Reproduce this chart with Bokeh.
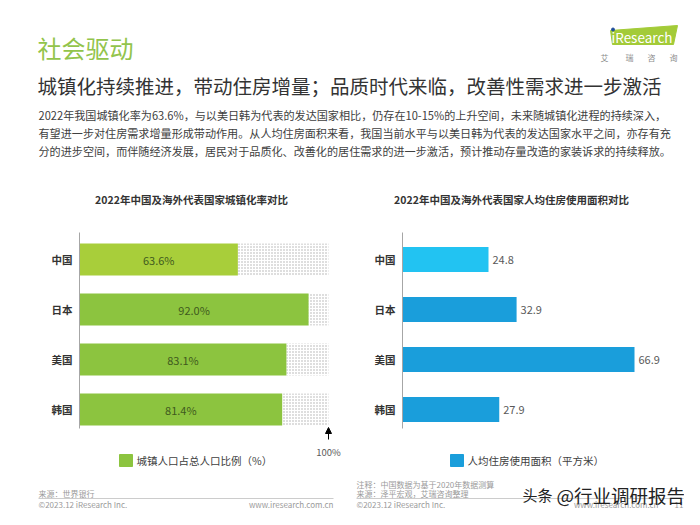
from bokeh.plotting import figure
from bokeh.models import Range1d, LinearAxis, FixedTicker, Arrow, NormalHead, ColumnDataSource
from bokeh.layouts import column, row
from bokeh.core.properties import value
from bokeh.embed import file_html
from bokeh.resources import INLINE

# ---------------- data ----------------
categories = ["中国", "日本", "美国", "韩国"]
urban_rate = [63.6, 92.0, 83.1, 81.4]          # 城镇人口占总人口比例（%）
urban_full = [100, 100, 100, 100]
living_area = [24.8, 32.9, 66.9, 27.9]         # 人均住房使用面积（平方米）
urban_colors = ["#A8CE3A", "#8CC43F", "#8CC43F", "#8CC43F"]
area_colors = ["#22C3F2", "#1A9EDB", "#1A9EDB", "#1A9EDB"]

title_main = "社会驱动"
subtitle = "城镇化持续推进，带动住房增量；品质时代来临，改善性需求进一步激活"
paragraph = [
    "2022年我国城镇化率为63.6%，与以美日韩为代表的发达国家相比，仍存在10-15%的上升空间，未来随城镇化进程的持续深入，",
    "有望进一步对住房需求增量形成带动作用。从人均住房面积来看，我国当前水平与以美日韩为代表的发达国家水平之间，亦存有充",
    "分的进步空间，而伴随经济发展，居民对于品质化、改善化的居住需求的进一步激活，预计推动存量改造的家装诉求的持续释放。",
]
left_title = "2022年中国及海外代表国家城镇化率对比"
right_title = "2022年中国及海外代表国家人均住房使用面积对比"
left_legend = "城镇人口占总人口比例（%）"
right_legend = "人均住房使用面积（平方米）"

CJK = value("Noto Sans CJK SC")

TOTAL_W = 684
HEAD_H = 215
CHART_TOP, CHART_BOT = 215, 467
FOOT_TOP, FOOT_BOT = 467, 509


def base_fig(width, height, xr, yr):
    p = figure(width=width, height=height, x_range=xr, y_range=yr,
               toolbar_location=None, output_backend="svg",
               x_axis_location=None, y_axis_location=None,
               min_border=0)
    p.outline_line_color = None
    p.background_fill_color = "white"
    p.border_fill_color = "white"
    p.xgrid.grid_line_color = None
    p.ygrid.grid_line_color = None
    return p


def txt(p, x, y, s, size, color, align="left", style="normal", rx="default", ry="default"):
    p.text(x=[x], y=[y], text=[s], text_font=CJK, text_font_size=f"{size}px",
           text_color=color, text_align=align, text_baseline="middle",
           text_font_style=style, x_range_name=rx, y_range_name=ry)


# ---------------- header (incl. chart titles) ----------------
head = base_fig(TOTAL_W, HEAD_H, Range1d(0, TOTAL_W), Range1d(HEAD_H, 0))
txt(head, 37, 47, title_main, 24, "#92C44B")
txt(head, 37, 85, subtitle, 19.5, "#333333")
for i, line in enumerate(paragraph):
    txt(head, 38, 114 + 18 * i, line, 11.1, "#404040")
# logo
head.patch(x=[610, 677, 673, 612], y=[30, 25, 44, 44], color="#A3CB38")
txt(head, 611, 36, "iResearch", 13.5, "white")
head.scatter(x=[612.5], y=[29], size=3, color="#1F4E9A")
for cx, ch in zip([604, 629, 651, 673], ["艾", "瑞", "咨", "询"]):
    txt(head, cx, 57, ch, 8, "#8C8C8C", align="center")
txt(head, 191, 199, left_title, 10.5, "#333333", align="center", style="bold")
txt(head, 511, 199, right_title, 10.5, "#333333", align="center", style="bold")


# ---------------- chart helper ----------------
def chart(values, colors, frame_left, fig_left, fig_right, px_per_unit):
    width = fig_right - fig_left
    xr = Range1d(0, (fig_right - frame_left) / px_per_unit)
    # category i centred at 259 + 50*i (reference pixels)
    yr = Range1d((CHART_BOT - 259) / 50, (CHART_TOP - 259) / 50)
    p = base_fig(width, CHART_BOT - CHART_TOP, xr, yr)
    p.min_border_left = frame_left - fig_left
    p.extra_x_ranges = {"px": Range1d(frame_left, fig_right)}
    p.extra_y_ranges = {"px": Range1d(CHART_BOT, CHART_TOP)}
    ax = LinearAxis(ticker=FixedTicker(ticks=[0, 1, 2, 3]),
                    major_label_overrides={i: c for i, c in enumerate(categories)},
                    bounds=(-0.54, 3.38))
    ax.axis_line_color = "#A6A6A6"
    ax.axis_line_width = 1
    ax.major_tick_line_color = None
    ax.major_tick_out = 0
    ax.major_tick_in = 0
    ax.minor_tick_line_color = None
    ax.minor_tick_out = 0
    ax.major_label_standoff = 7
    ax.major_label_text_font = "Noto Sans CJK SC"
    ax.major_label_text_font_size = "10.5px"
    ax.major_label_text_font_style = "bold"
    ax.major_label_text_color = "#333333"
    p.add_layout(ax, "left")
    src = ColumnDataSource(dict(y=list(range(len(categories))), v=values, c=colors))
    return p, src


# ---------------- left chart ----------------
left, lsrc = chart(urban_rate, urban_colors, 79, 0, 350, 2.49)
lsrc.data["full"] = urban_full
lsrc.data["mid"] = [v / 2 for v in urban_rate]
lsrc.data["lab"] = [f"{v:.1f}%" for v in urban_rate]
left.hbar(y="y", left="v", right="full", height=0.64, source=lsrc,
          fill_color="white", line_color=None,
          hatch_pattern="dot", hatch_color="#ABABAB", hatch_scale=3.0, hatch_weight=0.8)
left.hbar(y="y", left=0, right="v", height=0.64, source=lsrc,
          fill_color="c", line_color=None)
left.text(x="mid", y="y", text="lab", source=lsrc, text_font=CJK, text_font_size="11px",
          text_color="#3F5A1E", text_align="center", text_baseline="middle")
left.add_layout(Arrow(end=NormalHead(size=6, fill_color="black", line_color="black"),
                      x_start=328, y_start=439, x_end=328, y_end=427,
                      x_range_name="px", y_range_name="px", line_width=1))
txt(left, 328, 451, "100%", 9.5, "#595959", align="center", rx="px", ry="px")
left.quad(left=[119], right=[132], top=[454], bottom=[466], color="#8CC43F",
          x_range_name="px", y_range_name="px")
txt(left, 136, 460, left_legend, 10.5, "#404040", rx="px", ry="px")

# ---------------- right chart ----------------
right, rsrc = chart(living_area, area_colors, 402, 350, TOTAL_W, 3.468)
rsrc.data["lab"] = [f"{v:.1f}" for v in living_area]
right.hbar(y="y", left=0, right="v", height=0.5, source=rsrc,
           fill_color="c", line_color=None)
right.text(x="v", y="y", text="lab", source=rsrc, text_font=CJK, text_font_size="11px",
           text_color="#595959", text_align="left", text_baseline="middle", x_offset=4)
right.quad(left=[450], right=[463], top=[454], bottom=[466], color="#1A9EDB",
           x_range_name="px", y_range_name="px")
txt(right, 467, 460, right_legend, 10.5, "#404040", rx="px", ry="px")

# ---------------- footer ----------------
foot = base_fig(TOTAL_W, FOOT_BOT - FOOT_TOP, Range1d(0, TOTAL_W), Range1d(FOOT_BOT, FOOT_TOP))
g = "#9A9A9A"
txt(foot, 38, 492.5, "来源：世界银行", 8, g)
foot.segment(x0=[38, 356], y0=[498, 498], x1=[333, 683], y1=[498, 498],
             line_color="#BFBFBF", line_width=0.8)
txt(foot, 38, 504, "©2023.12 iResearch Inc.", 8, g)
txt(foot, 333, 504, "www.iresearch.com.cn", 8, g, align="right")
txt(foot, 356, 483.5, "注释：中国数据为基于2020年数据测算", 8, g)
txt(foot, 356, 492.5, "来源：泽平宏观，艾瑞咨询整理", 8, g)
txt(foot, 356, 504, "©2023.12 iResearch Inc.", 8, g)
txt(foot, 658, 504, "www.iresearch.com.cn", 8, g, align="right")
txt(foot, 683, 504, "11", 8, g, align="right")
txt(foot, 522, 494, "头条", 15, "#222222")
txt(foot, 556, 494, "@行业调研报告", 18.5, "#222222")

layout = column(head, row(left, right, spacing=0), foot, spacing=0)

open("out.html", "w").write(file_html(layout, INLINE))
